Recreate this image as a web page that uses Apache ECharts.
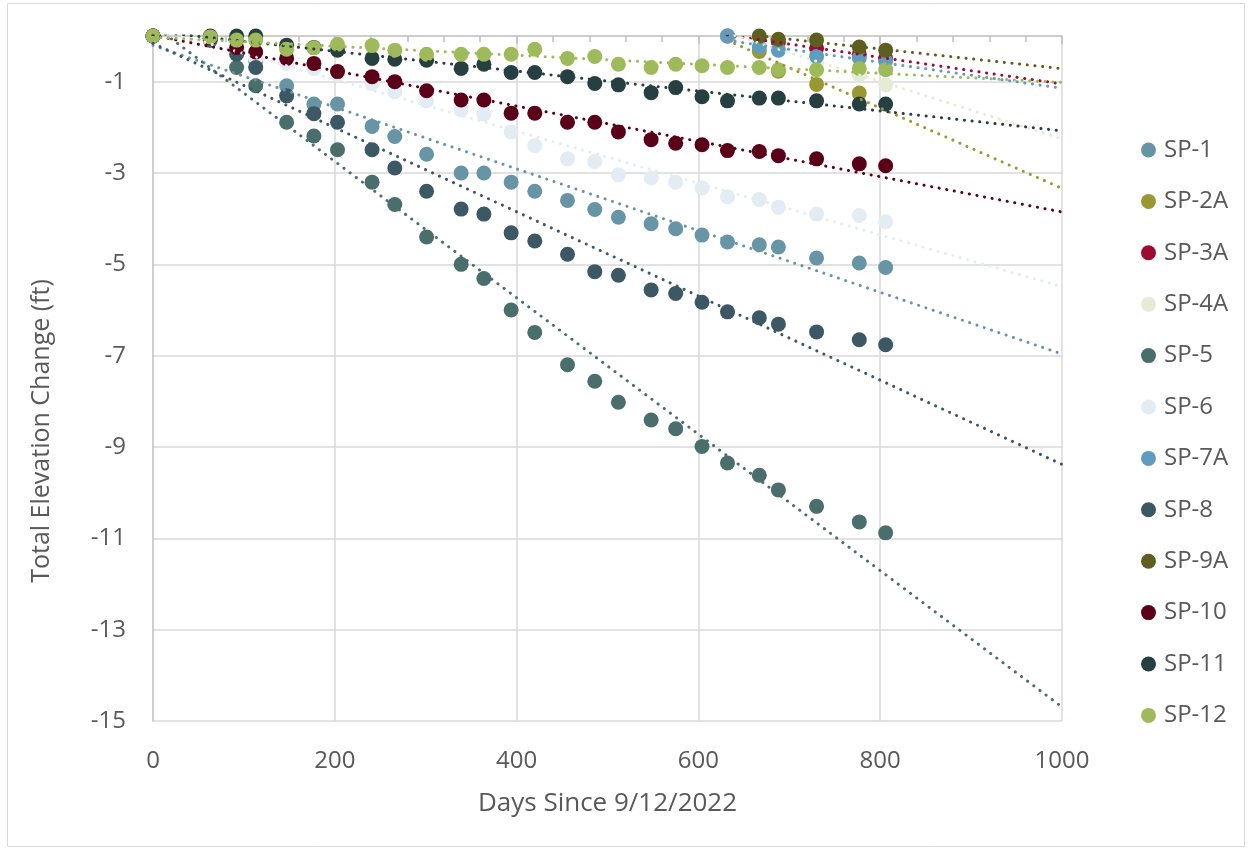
<!DOCTYPE html>
<html>
<head>
<meta charset="utf-8">
<script src="https://cdn.jsdelivr.net/npm/echarts@6.0.0/dist/echarts.min.js"></script>
<style>
  html, body { margin: 0; padding: 0; background: #fff; }
  #main { width: 1252px; height: 854px; }
</style>
</head>
<body>
<div id="main"></div>
<script>
// survey days (x) shared by every point
const days = [0, 63, 92, 113, 147, 177, 203, 241, 266, 301, 339, 364, 394, 420, 456, 486, 512, 548, 575, 604, 632, 667, 688, 730, 777, 806];
const N = null;

// total elevation change (ft) per settlement plate
const sp1  = [0, -0.05, -0.3, -0.55, -1.09, -1.49, -1.49, -1.98, -2.2, -2.59, -3.0, -3.0, -3.2, -3.4, -3.6, -3.8, -3.97, -4.11, -4.22, -4.36, -4.51, -4.57, -4.62, -4.86, -4.97, -5.07];
const sp2a = [N, N, N, N, N, N, N, N, N, N, N, N, N, N, N, N, N, N, N, N, 0, -0.34, -0.77, -1.06, -1.25, N];
const sp3a = [N, N, N, N, N, N, N, N, N, N, N, N, N, N, N, N, N, N, N, N, 0, -0.06, -0.13, -0.27, -0.40, -0.49];
const sp4a = [N, N, N, N, N, N, N, N, N, N, N, N, N, N, N, N, N, N, N, N, 0, -0.1, -0.3, -0.5, -0.85, -1.07];
const sp5  = [0, -0.1, -0.69, -1.09, -1.89, -2.19, -2.49, -3.2, -3.69, -4.4, -5.0, -5.31, -6.0, -6.49, -7.2, -7.56, -8.02, -8.41, -8.6, -8.99, -9.35, -9.62, -9.94, -10.3, -10.64, -10.88];
const sp6  = [0, -0.05, -0.3, -0.49, -0.6, -0.71, -0.85, -1.04, -1.22, -1.42, -1.62, -1.71, -2.1, -2.4, -2.69, -2.75, -3.04, -3.11, -3.2, -3.33, -3.52, -3.58, -3.75, -3.9, -3.93, -4.07];
const sp7a = [N, N, N, N, N, N, N, N, N, N, N, N, N, N, N, N, N, N, N, N, 0, -0.24, -0.31, -0.45, -0.48, -0.55];
const sp8  = [0, -0.05, -0.40, -0.69, -1.31, -1.70, -1.89, -2.49, -2.89, -3.4, -3.79, -3.9, -4.31, -4.49, -4.78, -5.16, -5.24, -5.56, -5.64, -5.83, -6.04, -6.17, -6.31, -6.48, -6.65, -6.76];
const sp9a = [N, N, N, N, N, N, N, N, N, N, N, N, N, N, N, N, N, N, N, N, N, 0, -0.07, -0.09, -0.24, -0.31];
const sp10 = [0, -0.05, -0.25, -0.35, -0.49, -0.6, -0.78, -0.89, -1.0, -1.2, -1.40, -1.40, -1.69, -1.69, -1.89, -1.89, -2.1, -2.27, -2.35, -2.38, -2.51, -2.53, -2.62, -2.69, -2.8, -2.84];
const sp11 = [0, 0, 0, 0, -0.2, -0.25, -0.31, -0.49, -0.51, -0.53, -0.71, -0.62, -0.80, -0.80, -0.89, -1.04, -1.07, -1.24, -1.13, -1.33, -1.42, -1.36, -1.36, -1.42, -1.49, -1.49];
const sp12 = [0, -0.02, -0.09, -0.09, -0.29, -0.26, -0.18, -0.21, -0.31, -0.40, -0.40, -0.40, -0.40, -0.29, -0.49, -0.45, -0.62, -0.69, -0.62, -0.65, -0.69, -0.69, -0.74, -0.74, -0.71, -0.74];

const names  = ['SP-1', 'SP-2A', 'SP-3A', 'SP-4A', 'SP-5', 'SP-6', 'SP-7A', 'SP-8', 'SP-9A', 'SP-10', 'SP-11', 'SP-12'];
const values = [sp1, sp2a, sp3a, sp4a, sp5, sp6, sp7a, sp8, sp9a, sp10, sp11, sp12];
const colors = ['#6895a6', '#999933', '#9e0b32', '#e6ebd6', '#4a6e6b', '#e3ecf2', '#5f9cbd', '#3c5864', '#5e5e1e', '#5a0019', '#263f40', '#9fba5a'];

const xTicks = [0, 200, 400, 600, 800, 1000];
const yTicks = [-1, -3, -5, -7, -9, -11, -13, -15];

const font = 'Open Sans';
const grey = '#595959';

// least squares linear trend, like the spreadsheet's trendline, forecast to x = 1000
function trend(pts) {
  const n = pts.length;
  let sx = 0, sy = 0, sxx = 0, sxy = 0;
  pts.forEach(p => { sx += p[0]; sy += p[1]; sxx += p[0] * p[0]; sxy += p[0] * p[1]; });
  const b = (n * sxy - sx * sy) / (n * sxx - sx * sx);
  const a = (sy - b * sx) / n;
  const x0 = pts[0][0];
  return [[x0, a + b * x0], [1000, a + b * 1000]];
}

const series = [];
names.forEach((name, k) => {
  const pts = [];
  days.forEach((d, i) => { if (values[k][i] != null) pts.push([d, values[k][i]]); });
  series.push({
    name: name,
    type: 'scatter',
    data: pts,
    symbolSize: 15,
    itemStyle: { color: colors[k], opacity: 1 },
    z: 2,
    silent: true
  });
  series.push({
    name: name + ' trend',
    type: 'line',
    data: trend(pts),
    symbol: 'none',
    lineStyle: { color: colors[k], width: 3, type: [0.1, 7.6], cap: 'round' },
    z: 3,
    silent: true,
    animation: false
  });
});

var myChart = echarts.init(document.getElementById('main'));
myChart.setOption({
  animation: false,
  backgroundColor: '#fff',
  grid: { left: 153, top: 36, right: 190, bottom: 133 },
  graphic: [{
    type: 'rect',
    shape: { x: 7.5, y: 3.5, width: 1237, height: 843 },
    style: { fill: 'none', stroke: '#d9d9d9', lineWidth: 1 },
    silent: true
  }, {
    // y axis title sits a little below the plot centre in the original
    type: 'text',
    x: 42,
    y: 431,
    rotation: Math.PI / 2,
    style: {
      text: 'Total Elevation Change (ft)',
      fontFamily: font, fontSize: 25, fill: grey,
      align: 'center', verticalAlign: 'middle'
    },
    silent: true
  }],
  legend: {
    orient: 'vertical',
    left: 1136,
    top: 133,
    itemWidth: 15,
    itemHeight: 15,
    itemGap: 27.4,
    icon: 'circle',
    selectedMode: false,
    data: names,
    textStyle: { fontFamily: font, fontSize: 24, color: grey, lineHeight: 24, padding: [0, 0, 0, 3] }
  },
  xAxis: {
    type: 'value',
    min: 0,
    max: 1000,
    interval: 200,
    name: 'Days Since 9/12/2022',
    nameLocation: 'middle',
    nameGap: 70,
    nameTextStyle: { fontFamily: font, fontSize: 26, color: grey },
    axisLine: { show: true, lineStyle: { color: '#bfbfbf', width: 1.5 } },
    axisTick: { show: true, length: 8, lineStyle: { color: '#bfbfbf', width: 1.5 } },
    minorTick: { show: true, splitNumber: 5, length: 6, lineStyle: { color: '#bfbfbf', width: 1.5 } },
    splitLine: { show: true, showMinLine: false, lineStyle: { color: '#d9d9d9', width: 1.5 } },
    axisLabel: {
      margin: 28,
      fontFamily: font, fontSize: 24, color: grey,
      formatter: v => xTicks.indexOf(v) >= 0 ? String(v) : ''
    }
  },
  yAxis: {
    type: 'value',
    min: -15,
    max: 0,
    interval: 2,
    axisLine: { show: true, lineStyle: { color: '#bfbfbf', width: 1.5 } },
    axisTick: { show: false },
    splitLine: { show: true, showMaxLine: false, lineStyle: { color: '#d9d9d9', width: 1.5 } },
    axisLabel: {
      margin: 27,
      showMaxLabel: false,
      fontFamily: font, fontSize: 24, color: grey,
      formatter: v => yTicks.indexOf(v) >= 0 ? String(v) : ''
    }
  },
  series: series
});
</script>
</body>
</html>
